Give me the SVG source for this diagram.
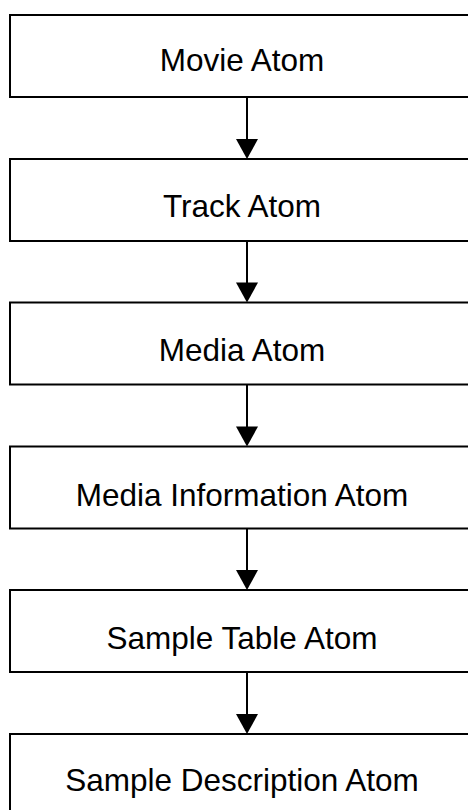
<svg xmlns="http://www.w3.org/2000/svg" width="468" height="810" viewBox="0 0 468 810">
<style>
.box{fill:#fff;stroke:#000;stroke-width:2}
.lbl{font-family:"Liberation Sans",Arial,sans-serif;font-size:31.5px;fill:#000;text-anchor:middle}
.con{stroke:#000;stroke-width:2;fill:none}
.head{fill:#000}
</style>
<rect width="468" height="810" fill="#fff"/>
<g id="movie"><rect class="box" x="10" y="15" width="470" height="82"/><text class="lbl" x="242" y="71">Movie Atom</text></g>
<g id="track"><rect class="box" x="10" y="159" width="470" height="82"/><text class="lbl" x="242" y="217">Track Atom</text></g>
<g id="media"><rect class="box" x="10" y="302.5" width="470" height="82"/><text class="lbl" x="242" y="361">Media Atom</text></g>
<g id="minf"><rect class="box" x="10" y="446.5" width="470" height="82"/><text class="lbl" x="242" y="506">Media Information Atom</text></g>
<g id="stbl"><rect class="box" x="10" y="590" width="470" height="82"/><text class="lbl" x="242" y="649">Sample Table Atom</text></g>
<g id="stsd"><rect class="box" x="10" y="734" width="470" height="100"/><text class="lbl" x="242" y="791">Sample Description Atom</text></g>
<g id="connectors">
<line class="con" x1="247" y1="97" x2="247" y2="140"/><polygon class="head" points="236,139 258,139 247,159"/>
<line class="con" x1="247" y1="241" x2="247" y2="283"/><polygon class="head" points="236,282.5 258,282.5 247,302.5"/>
<line class="con" x1="247" y1="384.5" x2="247" y2="427"/><polygon class="head" points="236,426.5 258,426.5 247,446.5"/>
<line class="con" x1="247" y1="528.5" x2="247" y2="571"/><polygon class="head" points="236,570 258,570 247,590"/>
<line class="con" x1="247" y1="672" x2="247" y2="715"/><polygon class="head" points="236,714 258,714 247,734"/>
</g>
</svg>
